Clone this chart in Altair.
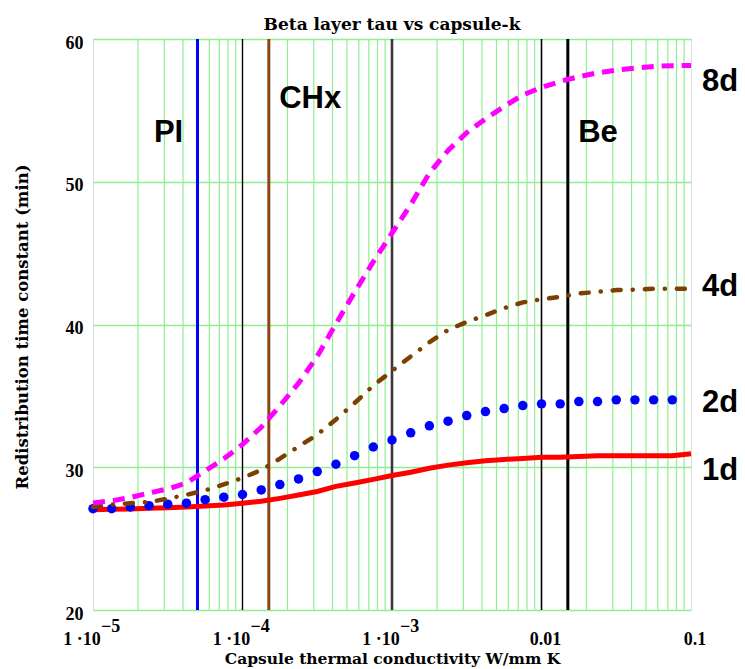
import altair as alt
import pandas as pd

# capsule thermal conductivity grid (W/mm K), 1/8 decade steps
k = [1.000e-5, 1.334e-5, 1.778e-5, 2.371e-5, 3.162e-5, 4.217e-5, 5.623e-5, 7.499e-5,
     1.000e-4, 1.334e-4, 1.778e-4, 2.371e-4, 3.162e-4, 4.217e-4, 5.623e-4, 7.499e-4,
     1.000e-3, 1.334e-3, 1.778e-3, 2.371e-3, 3.162e-3, 4.217e-3, 5.623e-3, 7.499e-3,
     1.000e-2, 1.334e-2, 1.778e-2, 2.371e-2, 3.162e-2, 4.217e-2, 5.623e-2, 7.499e-2,
     1.000e-1]

tau_1d = [27.03, 27.05, 27.08, 27.12, 27.17, 27.22, 27.28, 27.36, 27.48, 27.62, 27.82,
          28.05, 28.30, 28.66, 28.90, 29.15, 29.42, 29.65, 29.93, 30.15, 30.32, 30.45,
          30.55, 30.62, 30.70, 30.70, 30.75, 30.81, 30.81, 30.81, 30.81, 30.81, 30.95]
tau_2d = [27.10, 27.10, 27.22, 27.31, 27.41, 27.48, 27.73, 27.90, 28.09, 28.41, 28.79,
          29.18, 29.70, 30.21, 30.81, 31.42, 31.91, 32.41, 32.90, 33.23, 33.62, 33.90,
          34.11, 34.32, 34.44, 34.44, 34.60, 34.60, 34.72, 34.72, 34.72, 34.72]
tau_4d = [27.22, 27.38, 27.48, 27.56, 27.80, 28.07, 28.38, 28.80, 29.25, 29.80, 30.60,
          31.45, 32.29, 33.35, 34.50, 35.72, 36.75, 37.76, 38.75, 39.62, 40.18, 40.65,
          41.15, 41.55, 41.76, 41.94, 42.17, 42.29, 42.41, 42.44, 42.50, 42.50, 42.50]
tau_8d = [27.50, 27.65, 27.88, 28.20, 28.48, 28.90, 29.75, 30.59, 31.60, 32.80, 34.30,
          35.89, 37.77, 40.05, 42.26, 44.40, 46.40, 48.40, 50.60, 52.19, 53.44, 54.40,
          55.28, 56.08, 56.60, 57.03, 57.36, 57.63, 57.82, 57.96, 58.08, 58.13, 58.15]

series_labels = ["8d", "4d", "2d", "1d"]
series_label_y = [56.36, 42.0, 33.87, 29.1]

materials = ["PI", "CHx", "Be"]
material_k = [5e-5, 1.5e-4, 0.015]
material_colors = ["#0000FF", "#8B4513", "#000000"]
material_label_k = [3.2e-5, 1.76e-4, 0.0176]
material_label_y = [52.8, 55.15, 52.76]
material_label_align = ["center", "left", "left"]

decades = [1e-4, 1e-3, 1e-2]
decade_widths = [1.4, 2.6, 1.6]
decade_colors = ["#000000", "#3a3a3a", "#000000"]
minor_grid = [m * d for d in [1e-5, 1e-4, 1e-3, 1e-2] for m in range(2, 10)]

pow_ticks = [1e-5, 1e-4, 1e-3]
pow_sup = ["\u22125", "\u22124", "\u22123"]
dec_ticks = [0.01, 0.1]
dec_text = ["0.01", "0.1"]
y_ticks = [20, 30, 40, 50, 60]

W, H = 598, 571
SERIF = "Liberation Serif"
WSERIF = "DejaVu Serif"
SANS = "Liberation Sans"

xscale = alt.Scale(type="log", domain=[1e-5, 0.1], nice=False)
yscale = alt.Scale(domain=[20, 60], nice=False, zero=False)

xaxis = alt.Axis(labels=False, ticks=False, domain=False, grid=False,
                 title="Capsule thermal conductivity W/mm K",
                 titleFont=WSERIF, titleFontWeight="bold", titleFontSize=15.5,
                 titleColor="black", titleX=W / 2, titleY=53,
                 titleAnchor="middle", titleBaseline="alphabetic")
yaxis = alt.Axis(values=y_ticks, grid=True, gridColor="#90EE90", gridWidth=1.5,
                 ticks=False, domain=False, labelFont=SERIF, labelFontWeight="bold",
                 labelFontSize=18, labelColor="black", labelPadding=10, labelOffset=4,
                 title="Redistribution time constant (min)", titleFont=WSERIF,
                 titleFontWeight="bold", titleFontSize=16.5, titleColor="black",
                 titleX=-71, titleY=H / 2 + 2, titleAngle=-90, titleAlign="center",
                 titleBaseline="middle")

X = alt.X("k:Q", scale=xscale, axis=xaxis)
Y = alt.Y("v:Q", scale=yscale, axis=yaxis)

minor_df = pd.DataFrame({"k": minor_grid})
minor = alt.Chart(minor_df).mark_rule(color="#90EE90", strokeWidth=1.2).encode(x=X)

dec_df = pd.DataFrame({"k": decades, "w": decade_widths, "c": decade_colors})
major = alt.Chart(dec_df).mark_rule().encode(
    x=X, strokeWidth=alt.StrokeWidth("w:Q", scale=None), color=alt.Color("c:N", scale=None))

mat_df = pd.DataFrame({"k": material_k, "c": material_colors})
matlines = alt.Chart(mat_df).mark_rule(strokeWidth=3).encode(
    x=X, color=alt.Color("c:N", scale=None))

df1 = pd.DataFrame({"k": k, "v": tau_1d})
df2 = pd.DataFrame({"k": k[:len(tau_2d)], "v": tau_2d})
df4 = pd.DataFrame({"k": k, "v": tau_4d})
df8 = pd.DataFrame({"k": k, "v": tau_8d})

l1 = alt.Chart(df1).mark_line(color="#FF0000", strokeWidth=5).encode(x=X, y=Y)
l2 = alt.Chart(df2).mark_circle(color="#0000FF", size=90, opacity=1).encode(x=X, y=Y)
l4 = alt.Chart(df4).mark_line(color="#7F3F00", strokeWidth=4.5, strokeCap="round",
                              strokeDash=[8, 12, 0.1, 12]).encode(x=X, y=Y)
l8 = alt.Chart(df8).mark_line(color="#FF00FF", strokeWidth=5,
                              strokeDash=[12, 8]).encode(x=X, y=Y)

# material labels
lab_layers = []
for name, kk, yy, al in zip(materials, material_label_k, material_label_y, material_label_align):
    d = pd.DataFrame({"k": [kk], "v": [yy], "t": [name]})
    lab_layers.append(alt.Chart(d).mark_text(font=SANS, fontWeight="bold", fontSize=31,
                                             align=al, baseline="alphabetic", color="black")
                      .encode(x=X, y=Y, text="t:N"))

ser_df = pd.DataFrame({"v": series_label_y, "t": series_labels})
serlab = alt.Chart(ser_df).mark_text(font=SANS, fontWeight="bold", fontSize=31, align="left",
                                     baseline="alphabetic", color="black").encode(
    x=alt.value(W + 11), y=Y, text="t:N")

# x tick labels
pow_df = pd.DataFrame({"k": pow_ticks, "t": ["1 \u00b710"] * 3, "s": pow_sup})
powlab = alt.Chart(pow_df).mark_text(font=SERIF, fontWeight="bold", fontSize=18, align="center",
                                     baseline="alphabetic", dx=-11, color="black").encode(
    x=X, y=alt.value(H + 35), text="t:N")
suplab = alt.Chart(pow_df).mark_text(font=SERIF, fontWeight="bold", fontSize=18, align="left",
                                     baseline="alphabetic", dx=8, color="black").encode(
    x=X, y=alt.value(H + 22), text="s:N")
dec_df2 = pd.DataFrame({"k": dec_ticks, "t": dec_text})
declab = alt.Chart(dec_df2).mark_text(font=SERIF, fontWeight="bold", fontSize=18, align="center",
                                      baseline="alphabetic", dx=4, color="black").encode(
    x=X, y=alt.value(H + 35), text="t:N")

chart = alt.layer(minor, major, matlines, l1, l2, l4, l8, *lab_layers, serlab,
                  powlab, suplab, declab).properties(
    width=W, height=H,
    title=alt.TitleParams("Beta layer tau vs capsule-k", font=WSERIF, fontWeight="bold",
                          fontSize=17, color="black", anchor="middle", frame="group",
                          offset=0),
    autosize=alt.AutoSizeParams(type="none"),
    padding={"left": 85, "top": 31, "right": 46, "bottom": 58},
).configure_view(stroke="black", strokeWidth=2).configure(background="white")

chart.save("out.html", embed_options={"renderer": "svg", "actions": False})
